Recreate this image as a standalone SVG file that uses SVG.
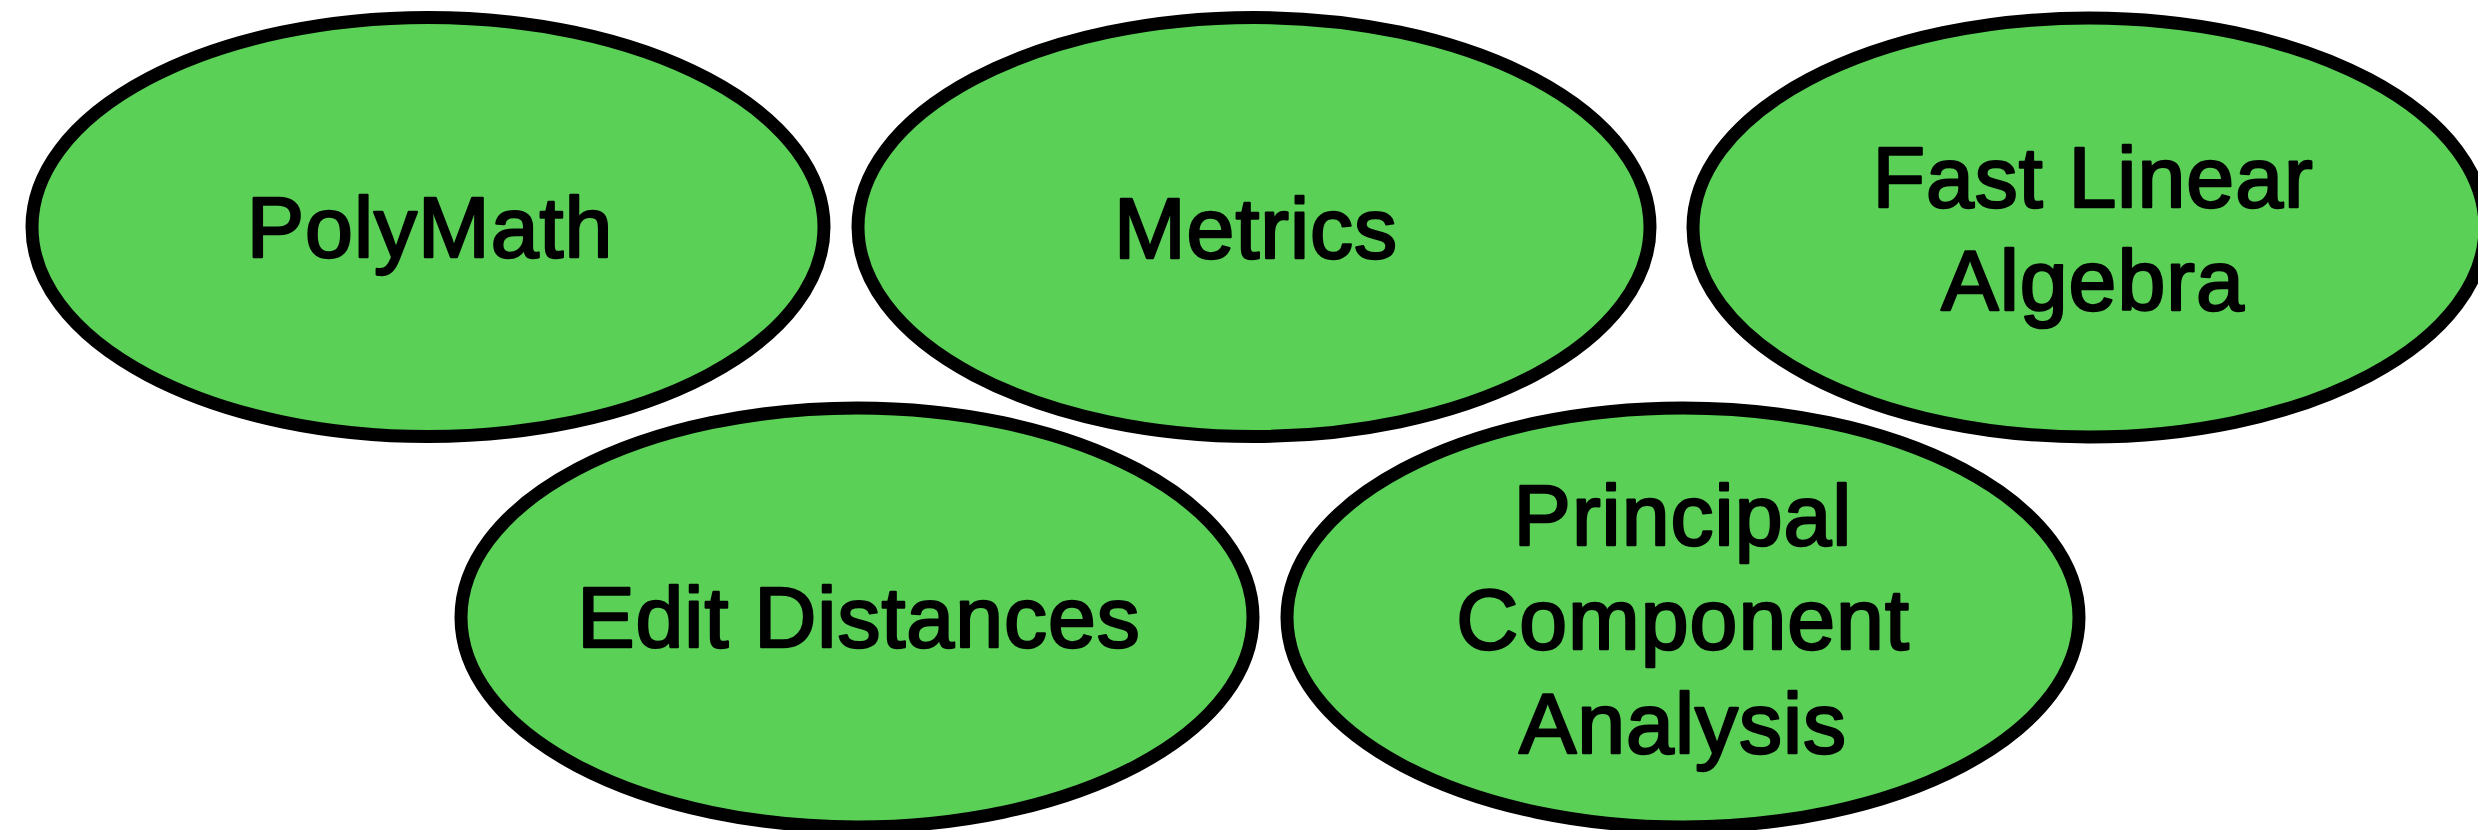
<svg xmlns="http://www.w3.org/2000/svg" width="2478" height="830" viewBox="0 0 2478 830">
  <style>
    .bubble { fill: #5AD156; stroke: #000; stroke-width: 13; }
    .label { font-family: "Liberation Sans", Arial, Helvetica, sans-serif; font-size: 86px; fill: #000; stroke: #000; stroke-width: 2.5; stroke-linejoin: round; letter-spacing: 1px; text-anchor: middle; }
  </style>
  <rect width="2478" height="830" fill="#fff"/>
  <g id="connectors"/>
  <g id="polymath">
    <ellipse class="bubble" cx="428" cy="227" rx="396" ry="209.5"/>
    <text class="label" x="430" y="257">PolyMath</text>
  </g>
  <g id="metrics">
    <ellipse class="bubble" cx="1254" cy="227" rx="396" ry="209.5"/>
    <text class="label" x="1256" y="258">Metrics</text>
  </g>
  <g id="fast-linear-algebra">
    <ellipse class="bubble" cx="2089" cy="227.5" rx="396" ry="209.5"/>
    <text class="label" x="2093" y="207">Fast Linear</text>
    <text class="label" x="2093" y="310">Algebra</text>
  </g>
  <g id="edit-distances">
    <ellipse class="bubble" cx="857" cy="617.5" rx="396" ry="209.5"/>
    <text class="label" x="859" y="647">Edit Distances</text>
  </g>
  <g id="pca">
    <ellipse class="bubble" cx="1683" cy="617.5" rx="396" ry="209.5"/>
    <text class="label" x="1683" y="545">Principal</text>
    <text class="label" x="1683" y="649">Component</text>
    <text class="label" x="1683" y="753">Analysis</text>
  </g>
</svg>
